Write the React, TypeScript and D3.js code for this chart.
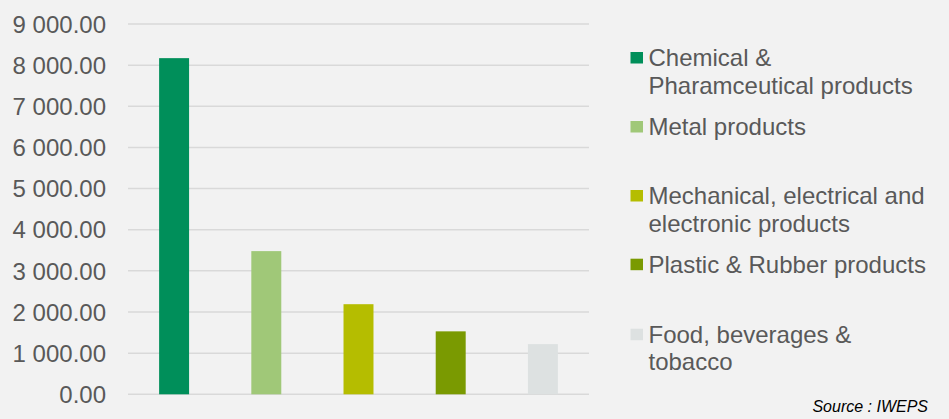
import React from "react";
import * as d3 from "d3";

const categories = [
  "Chemical & Pharamceutical products",
  "Metal products",
  "Mechanical, electrical and electronic products",
  "Plastic & Rubber products",
  "Food, beverages & tobacco",
];
const values = [8170, 3480, 2190, 1530, 1220];
const colors = ["#008F5A", "#A0C878", "#B5BD00", "#7A9A01", "#DDE1E1"];
const yTicks = [0, 1000, 2000, 3000, 4000, 5000, 6000, 7000, 8000, 9000];
const legendLines = [
  ["Chemical &", "Pharamceutical products"],
  ["Metal products"],
  ["Mechanical, electrical and", "electronic products"],
  ["Plastic & Rubber products"],
  ["Food, beverages &", "tobacco"],
];
const legendTops = [66, 135, 204, 272.7, 342.7];

const W = 949;
const H = 419;
const FONT = "'Liberation Sans', Arial, sans-serif";

const fmt = (v: number) => {
  const s = d3.format(",.2f")(v);
  return s.replace(/,/g, " ");
};

export default function App() {
  const x = d3
    .scaleBand<string>()
    .domain(categories)
    .range([128, 589])
    .paddingInner(0.675)
    .paddingOuter(0.3375);
  const y = d3.scaleLinear().domain([0, 9000]).range([394.3, 24]);

  return (
    <svg
      width={W}
      height={H}
      style={{ position: "absolute", left: 0, top: 0, display: "block" }}
      fontFamily={FONT}
    >
      <rect x={0} y={0} width={W} height={H} fill="#F2F2F2" />
      {yTicks.map((t) => (
        <g key={t}>
          <line
            x1={128}
            x2={589}
            y1={y(t)}
            y2={y(t)}
            stroke="#D9D9D9"
            strokeWidth={1.5}
          />
          <text
            x={106}
            y={y(t)}
            dy="0.36em"
            textAnchor="end"
            fontSize={24}
            fill="#595959"
          >
            {fmt(t)}
          </text>
        </g>
      ))}
      {categories.map((c, i) => (
        <rect
          key={c}
          x={x(c)}
          y={y(values[i])}
          width={x.bandwidth()}
          height={y(0) - y(values[i])}
          fill={colors[i]}
        />
      ))}
      {legendLines.map((lines, i) => (
        <g key={i}>
          <rect
            x={630.5}
            y={legendTops[i] - 14}
            width={12.5}
            height={11.5}
            fill={colors[i]}
          />
          {lines.map((l, j) => (
            <text
              key={j}
              x={648.5}
              y={legendTops[i] + j * 27.5}
              fontSize={24}
              fill="#595959"
            >
              {l}
            </text>
          ))}
        </g>
      ))}
      <text
        x={928}
        y={411.5}
        textAnchor="end"
        fontSize={16}
        fontStyle="italic"
        fill="#000000"
      >
        Source : IWEPS
      </text>
    </svg>
  );
}
